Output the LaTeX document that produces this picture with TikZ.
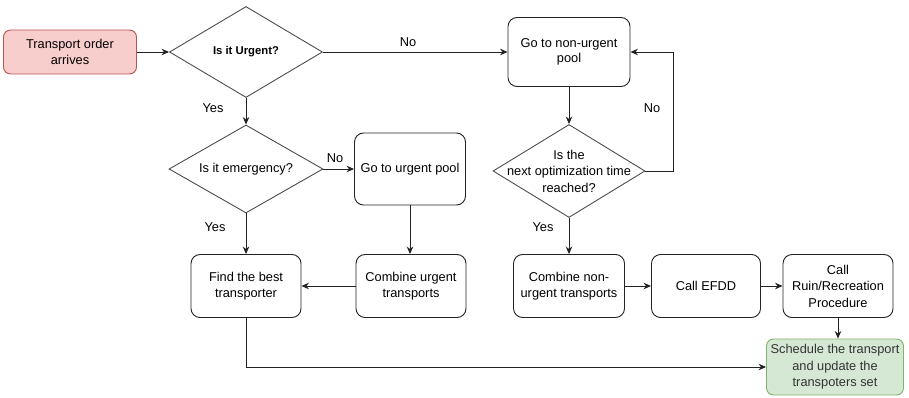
\documentclass[tikz,border=0pt]{standalone}
\usepackage{fontspec}
\setmainfont{Liberation Sans}
\usetikzlibrary{shapes.geometric,arrows.meta}
\definecolor{startfill}{HTML}{F8CECC}
\definecolor{startdraw}{HTML}{B85450}
\definecolor{endfill}{HTML}{D5E8D4}
\definecolor{enddraw}{HTML}{82B366}
\definecolor{linecol}{HTML}{222222}
\begin{document}
\begin{tikzpicture}[x=1pt,y=-1pt,
  every node/.style={font=\fontsize{12.8}{15.5}\selectfont, align=center, inner sep=0pt},
  procbox/.style={draw=linecol, line width=0.9pt, rounded corners=9pt, fill=white},
  decision/.style={diamond, draw=linecol!80, line width=0.9pt, fill=white},
  flow/.style={draw=linecol, line width=0.9pt, -{Stealth[length=7.5pt,width=6.5pt]}},
  lbl/.style={font=\fontsize{12.8}{15}\selectfont}
]
\useasboundingbox (0,0) rectangle (909,398);

% process boxes
\node[procbox, fill=startfill, draw=startdraw, minimum width=133pt, minimum height=44pt, rounded corners=7pt] (start) at (70,52) {Transport order\\arrives};
\node[procbox, minimum width=122pt, minimum height=69pt] (nonurg) at (569,52) {Go to non-urgent\\pool};
\node[procbox, minimum width=111pt, minimum height=72pt] (urgpool) at (410,169) {Go to urgent pool};
\node[procbox, minimum width=110pt, minimum height=63pt] (best) at (246,286) {Find the best\\transporter};
\node[procbox, minimum width=110pt, minimum height=63pt] (combu) at (411,286) {Combine urgent\\transports};
\node[procbox, minimum width=111pt, minimum height=63pt] (combn) at (569,286) {Combine non-\\urgent transports};
\node[procbox, minimum width=109pt, minimum height=63pt] (efdd) at (706,286) {Call EFDD};
\node[procbox, minimum width=110pt, minimum height=63pt, font=\fontsize{12.8}{16.5}\selectfont] (ruin) at (838,286) {Call\\Ruin/Recreation\\Procedure};
\node[procbox, fill=endfill, draw=enddraw, minimum width=137pt, minimum height=56pt, rounded corners=7pt, font=\fontsize{12.8}{16.5}\selectfont, text=black!80] (sched) at (835,367) {Schedule the transport\\and update the\\transpoters set};

% decisions: empty diamonds of fixed size, captions set on top
\node[decision, minimum width=153pt, minimum height=91pt] (urgent) at (246,52) {};
\node[font=\bfseries\fontsize{11.3}{14}\selectfont] (urgenttxt) at (urgent.center) {Is it Urgent?};
\node[decision, minimum width=154pt, minimum height=88pt] (emerg) at (246,169) {};
\node (emergtxt) at (emerg.center) {Is it emergency?};
\node[decision, minimum width=152pt, minimum height=93pt] (opt) at (569,171) {};
\node[font=\fontsize{12.8}{16.5}\selectfont] (opttxt) at (opt.center) {Is the\\next optimization time\\reached?};

% connectors
\draw[flow] (start) -- (urgent);
\draw[flow] (urgent.east) -- (nonurg.west);
\draw[flow] (urgent.south) -- (emerg.north);
\draw[flow] (emerg.east) -- (urgpool.west);
\draw[flow] (emerg.south) -- (best.north);
\draw[flow] (urgpool.south) -- (urgpool.south |- combu.north);
\draw[flow] (combu.west) -- (best.east);
\draw[flow] (nonurg.south) -- (opt.north);
\draw[flow] (opt.east) -- ++(28,0) |- (nonurg.east);
\draw[flow] (opt.south) -- (combn.north);
\draw[flow] (combn.east) -- (efdd.west);
\draw[flow] (efdd.east) -- (ruin.west);
\draw[flow] (ruin.south) -- (ruin.south |- sched.north);
\draw[flow] (best.south) |- (sched.west);

% branch labels
\node[lbl] (l1) at (408,42) {No};
\node[lbl] (l2) at (213,108) {Yes};
\node[lbl] (l3) at (335,158) {No};
\node[lbl] (l4) at (215,227) {Yes};
\node[lbl] (l5) at (652,108) {No};
\node[lbl] (l6) at (543,227) {Yes};
\end{tikzpicture}
\end{document}
